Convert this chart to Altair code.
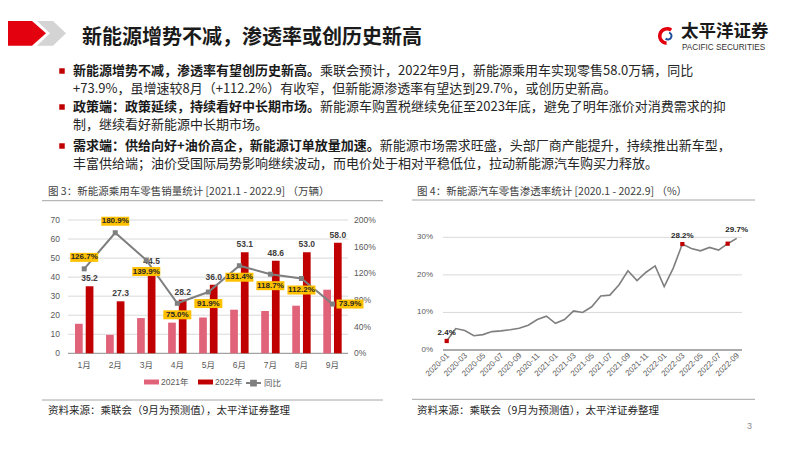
import altair as alt
import pandas as pd

OX, OY = 8, 8  # page margin of the html body

CJK = "Noto Sans CJK SC"
LAT = "Liberation Sans, Noto Sans CJK SC"

# ---------------- data ----------------
months = ["1月", "2月", "3月", "4月", "5月", "6月", "7月", "8月", "9月"]
series = ["2021年", "2022年"]
sales_2021 = [15.5, 9.7, 18.5, 16.1, 18.8, 22.9, 22.2, 25.0, 33.4]
sales_2022 = [35.2, 27.3, 44.5, 28.2, 36.0, 53.1, 48.6, 53.0, 58.0]
yoy = [126.7, 180.9, 139.9, 75.0, 91.9, 131.4, 118.7, 112.2, 73.9]
yoy_above = ["1月", "2月"]
yoy_right = ["9月"]

left_ticks = [0, 10, 20, 30, 40, 50, 60, 70]
right_ticks = [0, 40, 80, 120, 160, 200]
right_tick_labels = ["0%", "40%", "80%", "120%", "160%", "200%"]

pen_months = ["2020-01", "2020-02", "2020-03", "2020-04", "2020-05", "2020-06",
              "2020-07", "2020-08", "2020-09", "2020-10", "2020-11", "2020-12",
              "2021-01", "2021-02", "2021-03", "2021-04", "2021-05", "2021-06",
              "2021-07", "2021-08", "2021-09", "2021-10", "2021-11", "2021-12",
              "2022-01", "2022-02", "2022-03", "2022-04", "2022-05", "2022-06",
              "2022-07", "2022-08", "2022-09"]
pen_values = [2.4, 5.7, 5.2, 3.8, 4.1, 4.9, 5.1, 5.4, 5.8, 6.6, 8.1, 9.0,
              7.1, 8.1, 10.4, 10.0, 11.5, 14.4, 14.6, 17.3, 21.1, 18.5, 20.7, 22.4,
              16.9, 21.8, 28.2, 27.0, 26.4, 27.3, 26.6, 28.3, 29.7]
pen_marked = ["2020-01", "2022-03", "2022-08"]
pen_labelled = ["2020-01", "2022-03", "2022-09"]
pen_ticks = ["2020-01", "2020-03", "2020-05", "2020-07", "2020-09", "2020-11",
             "2021-01", "2021-03", "2021-05", "2021-07", "2021-09", "2021-11",
             "2022-01", "2022-03", "2022-05", "2022-07", "2022-09"]
pen_y_ticks = [0, 10, 20, 30]
pen_y_labels = ["0%", "10%", "20%", "30%"]

title = "新能源增势不减，渗透率或创历史新高"
bullets = [
    ("新能源增势不减，渗透率有望创历史新高。", "乘联会预计，2022年9月，新能源乘用车实现零售58.0万辆，同比",
     "+73.9%，虽增速较8月（+112.2%）有收窄，但新能源渗透率有望达到29.7%，或创历史新高。"),
    ("政策端：政策延续，持续看好中长期市场。", "新能源车购置税继续免征至2023年底，避免了明年涨价对消费需求的抑",
     "制，继续看好新能源中长期市场。"),
    ("需求端：供给向好+油价高企，新能源订单放量加速。", "新能源市场需求旺盛，头部厂商产能提升，持续推出新车型，",
     "丰富供给端；油价受国际局势影响继续波动，而电价处于相对平稳低位，拉动新能源汽车购买力释放。"),
]
cap_left = "图 3：新能源乘用车零售销量统计 [2021.1 - 2022.9] （万辆）"
cap_right = "图 4：新能源汽车零售渗透率统计 [2020.1 - 2022.9] （%）"
source = "资料来源：乘联会（9月为预测值），太平洋证券整理"

PINK = "#e0637a"
RED = "#c00000"
GOLD = "#ffc000"
GRAY = "#7f7f7f"

one = pd.DataFrame({"a": [0]})


def txt(text, x, y, size, color="#262626", weight="normal", align="left", font=CJK, baseline="middle"):
    return alt.Chart(one).mark_text(
        text=text, align=align, baseline=baseline, fontSize=size, font=font,
        fontWeight=weight, color=color
    ).encode(x=alt.value(x - OX), y=alt.value(y - OY))


def hline(x1, x2, y, color="#a6a6a6", w=1):
    return alt.Chart(one).mark_rule(color=color, strokeWidth=w).encode(
        x=alt.value(x1 - OX), x2=alt.value(x2 - OX), y=alt.value(y - OY))


def shape(path, color):
    return alt.Chart(one).mark_point(shape=path, size=4, filled=True, color=color,
                                     opacity=1, strokeWidth=0).encode(
        x=alt.value(0), y=alt.value(0))


def text_width(s, fs):
    w = 0
    for ch in s:
        w += fs * (0.6 if ord(ch) < 128 else 1.0)
    return w


# ---------------- header / decorations ----------------
deco = []
deco.append(shape("M-8,13H24L38,25.3L24,37.7H-8Z", "#e3000f"))
deco.append(shape("M29,13H45L58,25.3L45,37.7H29L42,25.3Z", "#d4d4d4"))
deco.append(txt(title, 82, 38, 20, color="#1a1a1a", weight="bold"))

# logo
deco.append(alt.Chart(one).mark_arc(color="#e3000f", radius=9, radius2=5.5, theta=3.2, theta2=6.9).encode(
    x=alt.value(667 - OX), y=alt.value(36 - OY)))
deco.append(alt.Chart(one).mark_arc(color="#1f4e9c", radius=4.5, radius2=2.5, theta=0.3, theta2=3.9).encode(
    x=alt.value(668 - OX), y=alt.value(36 - OY)))
deco.append(txt("太平洋证券", 681, 32, 17.5, color="#1a1a1a", weight="bold"))
deco.append(txt("PACIFIC SECURITIES", 682, 47.5, 8.2, color="#333333", font=LAT))

# bullets
FS = 13
rows_y = [(71, 89), (107, 125), (146, 164)]
for (bold, reg, second), (y1, y2) in zip(bullets, rows_y):
    deco.append(alt.Chart(one).mark_point(shape="square", size=30, filled=True, color=RED, opacity=1).encode(
        x=alt.value(62 - OX), y=alt.value(y1 - OY)))
    deco.append(txt(bold, 73, y1, FS, weight="bold", color="#1a1a1a"))
    deco.append(txt(reg, 73 + text_width(bold, FS), y1, FS, color="#262626"))
    deco.append(txt(second, 73, y2, FS, color="#262626"))

# captions and source lines
deco.append(txt(cap_left, 48, 192, 10.5, color="#404040"))
deco.append(hline(42, 383, 200.7))
deco.append(txt(cap_right, 417, 192, 10.5, color="#404040"))
deco.append(hline(412, 755, 200))
deco.append(hline(42, 383, 400))
deco.append(txt(source, 48, 411, 10.5, color="#262626"))
deco.append(hline(412, 755, 399.3))
deco.append(txt(source, 417, 411, 10.5, color="#262626"))
deco.append(txt("3", 747, 426, 9, color="#8c8c8c", font=LAT))

# ---------------- left chart ----------------
df_bars = pd.DataFrame({
    "month": months * 2,
    "series": [series[0]] * len(months) + [series[1]] * len(months),
    "value": sales_2021 + sales_2022,
})
df_line = pd.DataFrame({"month": months, "yoy": yoy})
df_lt = pd.DataFrame({"v": left_ticks})
df_rt = pd.DataFrame({"v": right_ticks, "label": right_tick_labels})
df_m = pd.DataFrame({"month": months})

xL = alt.X("month:N", sort=months, axis=None,
           scale=alt.Scale(domain=months, range=[68.7 - OX, 348 - OX], paddingInner=0, paddingOuter=0))
xOff = alt.XOffset("series:N", sort=series,
                   scale=alt.Scale(domain=series, paddingInner=0.28, paddingOuter=0.59))
ySc = alt.Scale(domain=[0, 70], range=[353.3 - OY, 220 - OY], nice=False, zero=True)
yRSc = alt.Scale(domain=[0, 200], range=[353.3 - OY, 220 - OY], nice=False, zero=True)

grid = alt.Chart(df_lt).transform_filter("datum.v > 0").mark_rule(color="#d9d9d9", strokeWidth=1).encode(
    x=alt.value(68 - OX), x2=alt.value(348 - OX), y=alt.Y("v:Q", scale=ySc, axis=None))
base = alt.Chart(df_lt).transform_filter("datum.v == 0").mark_rule(color="#8c8c8c", strokeWidth=1).encode(
    x=alt.value(68 - OX), x2=alt.value(348 - OX), y=alt.Y("v:Q", scale=ySc, axis=None))
ylab = alt.Chart(df_lt).mark_text(align="right", baseline="middle", fontSize=8.5, font=LAT, color="#595959").encode(
    x=alt.value(60 - OX), y=alt.Y("v:Q", scale=ySc, axis=None), text="v:Q")
mlab = alt.Chart(df_m).mark_text(align="center", baseline="middle", fontSize=8.5, font=LAT, color="#595959").encode(
    x=xL, y=alt.value(365 - OY), text="month:N")

bars = alt.Chart(df_bars).mark_bar().encode(
    x=xL, xOffset=xOff,
    y=alt.Y("value:Q", scale=ySc, axis=None),
    color=alt.Color("series:N", sort=series,
                    scale=alt.Scale(domain=series, range=[PINK, RED]),
                    legend=alt.Legend(orient="none", legendX=144 - OX, legendY=374.5 - OY,
                                      direction="horizontal", title=None,
                                      symbolType="M-1,-0.33H1V0.33H-1Z", symbolSize=225,
                                      symbolStrokeWidth=0, labelFontSize=8.5, labelFont=LAT,
                                      labelColor="#595959", labelOffset=2, columnPadding=9,
                                      padding=0)))
blab = alt.Chart(df_bars).transform_filter(alt.datum.series == series[1]).mark_text(
    baseline="bottom", dy=-3, fontSize=8.5, font=LAT, fontWeight="bold", color="#404040").encode(
    x=xL, xOffset=xOff, y=alt.Y("value:Q", scale=ySc, axis=None),
    text=alt.Text("value:Q", format=".1f"))

left_primary = alt.layer(grid, base, ylab, mlab, bars, blab)

yR = alt.Y("yoy:Q", scale=yRSc, axis=None)
line = alt.Chart(df_line).transform_calculate(name="'同比'").mark_line(strokeWidth=2).encode(
    x=xL, y=yR,
    stroke=alt.Stroke("name:N", scale=alt.Scale(domain=["同比"], range=[GRAY]),
                      legend=alt.Legend(orient="none", legendX=245 - OX, legendY=374.5 - OY,
                                        direction="horizontal", title=None,
                                        symbolType="M-1,0H1M-0.33,-0.33H0.33V0.33H-0.33Z",
                                        symbolSize=225, symbolStrokeWidth=1.8,
                                        symbolFillColor=GRAY, labelFontSize=8.5, labelFont=LAT,
                                        labelColor="#595959", labelOffset=2, padding=0)))
pts = alt.Chart(df_line).mark_point(shape="square", size=25, filled=True, color=GRAY, opacity=1).encode(
    x=xL, y=yR)

above = alt.FieldOneOfPredicate(field="month", oneOf=yoy_above)
right = alt.FieldOneOfPredicate(field="month", oneOf=yoy_right)
below = {"not": {"or": [above, right]}}


def box(pred, path, dx, dy):
    b = alt.Chart(df_line).transform_filter(pred).mark_point(
        shape=path, size=4, filled=True, color=GOLD, opacity=1, strokeWidth=0).encode(x=xL, y=yR)
    t = alt.Chart(df_line).transform_filter(pred).transform_calculate(
        lbl="format(datum.yoy, '.1f') + '%'").mark_text(
        dx=dx, dy=dy, baseline="middle", align="center", fontSize=8, font=LAT,
        fontWeight="bold", color="#262626").encode(x=xL, y=yR, text="lbl:N")
    return [b, t]


boxes = []
boxes += box(above, "M-14,-16H14V-7H-14Z", 0, -11.5)
boxes += box(below, "M-14,7H14V16H-14Z", 0, 11.5)
boxes += box(right, "M4,-4.5H31V4.5H4Z", 17.5, 0)

rlab = alt.Chart(df_rt).mark_text(align="left", baseline="middle", fontSize=8.5, font=LAT, color="#595959").encode(
    x=alt.value(354 - OX), y=alt.Y("v:Q", scale=yRSc, axis=None), text="label:N")

left_secondary = alt.layer(rlab, line, pts, *boxes)
left = alt.layer(left_primary, left_secondary).resolve_scale(y="independent")

# ---------------- right chart ----------------
df_pen = pd.DataFrame({"month": pen_months, "v": pen_values})
df_py = pd.DataFrame({"v": pen_y_ticks, "label": pen_y_labels})
df_px = pd.DataFrame({"month": pen_ticks})

xP = alt.X("month:N", sort=pen_months, axis=None,
           scale=alt.Scale(type="point", domain=pen_months, range=[446.7 - OX, 736.7 - OX], padding=0))
yPSc = alt.Scale(domain=[0, 30], range=[350 - OY, 237.3 - OY], nice=False, zero=True)
yP = alt.Y("v:Q", scale=yPSc, axis=None)

pgrid = alt.Chart(df_py).transform_filter("datum.v > 0").mark_rule(color="#d9d9d9", strokeWidth=1).encode(
    x=alt.value(443 - OX), x2=alt.value(742 - OX), y=yP)
pbase = alt.Chart(df_py).transform_filter("datum.v == 0").mark_rule(color="#595959", strokeWidth=1).encode(
    x=alt.value(443 - OX), x2=alt.value(742 - OX), y=yP)
pylab = alt.Chart(df_py).mark_text(align="right", baseline="middle", fontSize=8, font=LAT, color="#595959").encode(
    x=alt.value(433 - OX), y=yP, text="label:N")
pxlab = alt.Chart(df_px).mark_text(align="right", baseline="middle", angle=315, fontSize=8, font=LAT,
                                   color="#595959", dx=2).encode(
    x=xP, y=alt.value(356 - OY), text="month:N")
pline = alt.Chart(df_pen).mark_line(color=GRAY, strokeWidth=1.6).encode(x=xP, y=yP)
pmark = alt.Chart(df_pen).transform_filter(alt.FieldOneOfPredicate(field="month", oneOf=pen_marked)).mark_point(
    shape="square", size=18, filled=True, color=RED, opacity=1).encode(x=xP, y=yP)
plab = alt.Chart(df_pen).transform_filter(alt.FieldOneOfPredicate(field="month", oneOf=pen_labelled)).transform_calculate(
    lbl="format(datum.v, '.1f') + '%'").mark_text(
    baseline="bottom", dy=-4, fontSize=8, font=LAT, fontWeight="bold", color="#262626").encode(
    x=xP, y=yP, text="lbl:N")

right_chart = alt.layer(pgrid, pbase, pylab, pxlab, pline, pmark, plab)

chart = alt.layer(*deco, left, right_chart).resolve_scale(
    x="independent", y="independent"
).properties(
    width=786, height=435, padding=0,
    autosize=alt.AutoSizeParams(type="none"),
    background="white",
).configure_view(stroke=None)

chart.save("out.html", embed_options={"renderer": "svg", "actions": False})
